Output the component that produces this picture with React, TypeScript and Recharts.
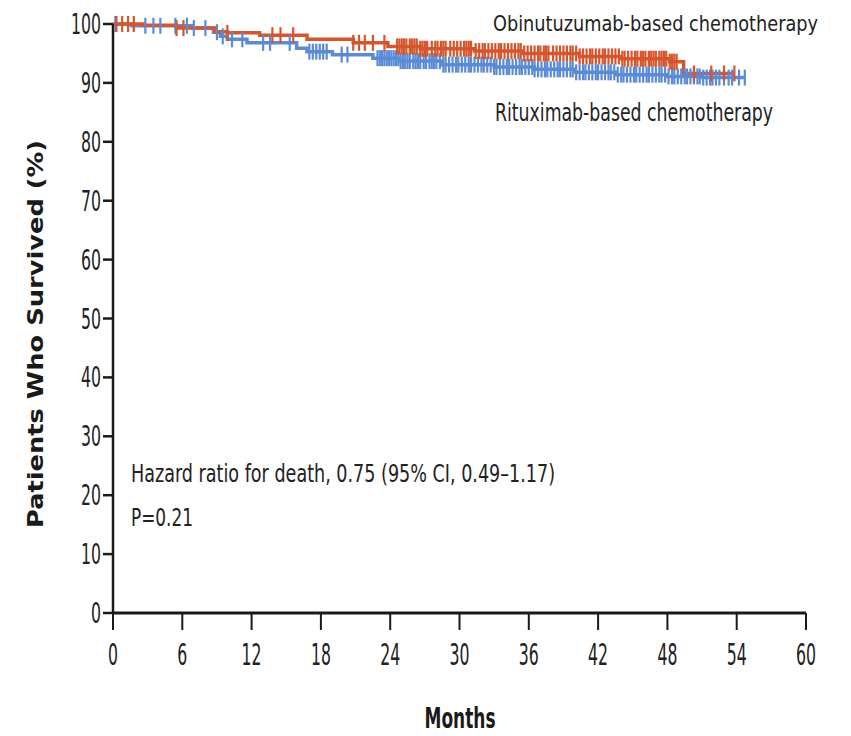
import { ComposedChart, Line, XAxis, YAxis } from 'recharts'

// Kaplan-Meier steps: [month, % surviving]
const obinutuzumabSteps = [
  [0, 100], [2.6, 99.8], [5.5, 99.3], [8.8, 98.7], [9.9, 98.5], [12.7, 98.1], [16.8, 97.4],
  [20.8, 96.8], [23.8, 96.2], [26.6, 95.8], [31.3, 95.4], [35.5, 95.0], [40.4, 94.5],
  [44.0, 94.1], [48.2, 93.6], [49.4, 91.6],
]
const rituximabSteps = [
  [0, 100], [1.6, 99.7], [6.9, 99.3], [8.7, 98.6], [9.3, 97.9], [9.9, 97.4], [11.6, 96.8],
  [15.9, 95.9], [16.8, 95.3], [19.0, 94.8], [22.5, 94.2], [24.8, 93.7], [28.5, 93.1],
  [33.0, 92.7], [36.5, 92.3], [40.0, 91.8], [43.5, 91.4], [48.0, 91.1], [51.0, 90.9],
]

// censored observations (months)
const obinutuzumabCensored = [
  0.3, 0.8, 1.3, 1.8, 5.5, 6.1, 9.9, 13.8, 14.5, 15.6, 20.8, 21.3, 21.8, 22.5, 23.5, 24.6,
  24.8, 25.0, 25.2, 25.4, 25.7, 25.9, 26.1, 26.3, 26.6, 26.8, 27.0, 27.2, 27.6, 27.9, 28.1,
  28.4, 28.6, 28.8, 29.2, 29.5, 29.8, 30.1, 30.4, 30.6, 30.8, 31.0, 31.4, 31.7, 32.0, 32.2,
  32.5, 32.8, 33.1, 33.4, 33.6, 33.9, 34.2, 34.5, 34.8, 35.1, 35.3, 35.6, 35.9, 36.2, 36.5,
  36.8, 37.0, 37.3, 37.5, 37.7, 38.1, 38.4, 38.7, 39.0, 39.3, 39.6, 39.8, 40.1, 40.4, 40.7,
  41.0, 41.3, 41.5, 41.8, 42.1, 42.4, 42.6, 42.9, 43.2, 43.5, 43.8, 44.1, 44.3, 44.6, 44.9,
  45.2, 45.4, 45.7, 45.9, 46.1, 46.4, 46.6, 46.8, 47.0, 47.3, 47.5, 47.7, 47.9, 48.2, 48.4,
  48.6, 48.8, 50.3, 51.8, 52.9, 53.8,
]
const rituximabCensored = [
  0.2, 2.8, 3.5, 4.1, 5.4, 6.4, 7.0, 8.0, 9.0, 9.5, 10.3, 11.2, 13.0, 13.6, 15.3, 17.0, 17.3,
  17.6, 17.9, 18.2, 18.5, 19.8, 20.3, 22.9, 23.1, 23.3, 23.5, 23.7, 23.9, 24.1, 24.3, 24.5,
  24.7, 24.9, 25.1, 25.3, 25.5, 25.7, 26.0, 26.2, 26.4, 26.6, 26.9, 27.1, 27.4, 27.6, 27.8,
  28.0, 28.3, 28.6, 28.8, 29.1, 29.4, 29.7, 29.9, 30.2, 30.5, 30.8, 31.0, 31.3, 31.6, 31.9,
  32.1, 32.4, 32.7, 33.0, 33.2, 33.5, 33.8, 34.1, 34.3, 34.6, 34.9, 35.2, 35.4, 35.7, 36.0,
  36.3, 36.5, 36.8, 37.1, 37.4, 37.6, 37.9, 38.2, 38.5, 38.7, 39.0, 39.3, 39.6, 39.8, 40.1,
  40.4, 40.7, 40.9, 41.2, 41.5, 41.8, 42.0, 42.3, 42.6, 42.9, 43.1, 43.4, 43.7, 44.0, 44.2,
  44.5, 44.8, 45.1, 45.3, 45.6, 45.9, 46.2, 46.4, 46.7, 47.0, 47.3, 47.5, 47.8, 48.1, 48.4,
  48.6, 48.9, 49.2, 49.5, 49.7, 50.0, 50.3, 50.6, 50.8, 51.1, 51.4, 51.7, 51.9, 52.2, 52.5,
  52.9, 53.3, 53.6, 54.2, 54.7,
]

const monthTicks = [0, 6, 12, 18, 24, 30, 36, 42, 48, 54, 60]
const percentTicks = [0, 10, 20, 30, 40, 50, 60, 70, 80, 90, 100]

const ORANGE = '#d6552c'
const BLUE = '#5b8bd6'
const narrow = "'Liberation Sans Narrow', 'DejaVu Sans Condensed', 'Noto Sans', sans-serif"

// merge step points with censor marks so every mark sits on its curve
function buildCurve(steps: number[][], censored: number[]) {
  const pts = steps.map(([m, s]) => ({ m, s, c: false }))
  censored.forEach(t => {
    let s = steps[0][1]
    steps.forEach(([m, v]) => { if (m <= t) s = v })
    pts.push({ m: t, s, c: true })
  })
  return pts.sort((a, b) => a.m - b.m || (a.c ? 1 : -1))
}

const obData = buildCurve(obinutuzumabSteps, obinutuzumabCensored)
const riData = buildCurve(rituximabSteps, rituximabCensored)

const censorDot = (color: string) => (props: any) => {
  const { cx, cy, payload, index } = props
  if (!payload?.c) return <g key={index} />
  return <line key={index} x1={cx} x2={cx} y1={cy - 8} y2={cy + 8} stroke={color} strokeWidth={2.2} />
}

const XTick = (props: any) => {
  const { x, y, payload } = props
  const s = String(payload.value)
  return (
    <text x={x} y={y} dy={33} textAnchor="middle" fontFamily={narrow} fontSize={31} fill="#222"
      textLength={s.length * 10} lengthAdjust="spacingAndGlyphs">
      {s}
    </text>
  )
}

const YTick = (props: any) => {
  const { x, y, payload } = props
  const s = String(payload.value)
  return (
    <text x={x} y={y} dy={10} textAnchor="end" fontFamily={narrow} fontSize={29} fill="#222"
      textLength={s.length * 10} lengthAdjust="spacingAndGlyphs">
      {s}
    </text>
  )
}

export default function App() {
  return (
    <div style={{ position: 'absolute', left: 0, top: 0, width: 851, height: 736, background: '#fff' }}>
      <ComposedChart width={851} height={736} margin={{ top: 24, right: 45, bottom: 0, left: 0 }}>
        <XAxis
          type="number"
          dataKey="m"
          domain={[0, 60]}
          ticks={monthTicks}
          allowDataOverflow
          stroke="#1a1a1a"
          axisLine={{ strokeWidth: 3 }}
          tickLine={{ strokeWidth: 2 }}
          tickSize={17}
          tick={<XTick />}
          height={123}
        />
        <YAxis
          type="number"
          domain={[0, 100]}
          ticks={percentTicks}
          stroke="#1a1a1a"
          axisLine={{ strokeWidth: 2.5 }}
          tickLine={{ strokeWidth: 2.5 }}
          tickSize={10}
          tickMargin={2}
          tick={<YTick />}
          width={113}
        />
        <Line data={riData} dataKey="s" type="stepAfter" stroke={BLUE} strokeWidth={3.5}
          dot={censorDot(BLUE)} activeDot={false} isAnimationActive={false} />
        <Line data={obData} dataKey="s" type="stepAfter" stroke={ORANGE} strokeWidth={3.5}
          dot={censorDot(ORANGE)} activeDot={false} isAnimationActive={false} />
      </ComposedChart>
      <svg width={851} height={736} style={{ position: 'absolute', left: 0, top: 0, pointerEvents: 'none' }}>
        <text x={493} y={31} fontFamily={narrow} fontSize={22} fill="#222" textLength={325} lengthAdjust="spacingAndGlyphs">
          Obinutuzumab-based chemotherapy
        </text>
        <text x={495} y={121} fontFamily={narrow} fontSize={24} fill="#222" textLength={278} lengthAdjust="spacingAndGlyphs">
          Rituximab-based chemotherapy
        </text>
        <text x={131} y={482} fontFamily={narrow} fontSize={24} fill="#222" textLength={424} lengthAdjust="spacingAndGlyphs">
          Hazard ratio for death, 0.75 (95% CI, 0.49–1.17)
        </text>
        <text x={131} y={526} fontFamily={narrow} fontSize={24} fill="#222" textLength={62} lengthAdjust="spacingAndGlyphs">
          P=0.21
        </text>
        <text x={460} y={728} textAnchor="middle" fontFamily={narrow} fontWeight="bold" fontSize={28} fill="#1a1a1a"
          textLength={71} lengthAdjust="spacingAndGlyphs">
          Months
        </text>
        <text x={0} y={0} transform="translate(43,334) rotate(-90)" textAnchor="middle" fontFamily="'DejaVu Sans', Verdana, sans-serif"
          fontWeight="bold" fontSize={22} fill="#1a1a1a" textLength={388} lengthAdjust="spacingAndGlyphs">
          Patients Who Survived (%)
        </text>
      </svg>
    </div>
  )
}
